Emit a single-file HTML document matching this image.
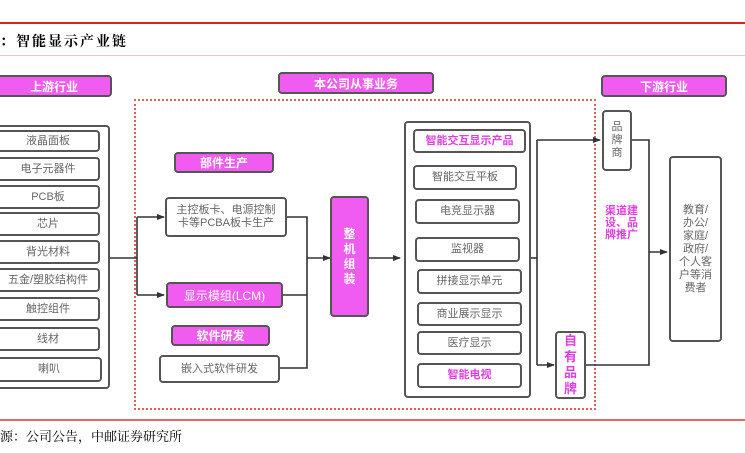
<!DOCTYPE html>
<html><head><meta charset="utf-8"><style>
body{margin:0;width:745px;height:453px;background:#fff;position:relative;overflow:hidden;font-family:"Liberation Sans","Noto Sans CJK SC",sans-serif;}
.a{position:absolute;box-sizing:border-box;}
.b{border:2px solid #555;border-radius:4px;background:#fff;color:#666;font-size:11px;display:flex;align-items:center;justify-content:center;text-align:center;line-height:13px;}
.p{border:2px solid #555;border-radius:4px;background:#f05cf0;color:#fff;font-size:12px;font-weight:bold;display:flex;align-items:center;justify-content:center;}
.m{color:#e040e0;font-weight:bold;}
</style></head><body>
<div class="a" style="left:0;top:22px;width:745px;height:2px;background:#d82020"></div>
<div class="a" style="left:0;top:31px;font-size:14px;font-family:'Noto Serif CJK SC',serif;font-weight:bold;letter-spacing:2px">：智能显示产业链</div>
<div class="a" style="left:0;top:55px;width:745px;height:1px;background:#e8c8c8"></div>
<div class="a" style="left:134px;top:99px;width:462px;height:311px;border:2px dotted #e06060"></div>
<div class="a" style="left:0;top:419px;width:745px;height:2px;background:#e86868"></div>
<div class="a" style="left:0;top:426px;font-size:13px;font-family:'Noto Serif CJK SC',serif">源：公司公告，中邮证券研究所</div>

<svg class="a" style="left:0;top:0" width="745" height="453">
<defs><marker id="ar" markerWidth="8" markerHeight="8" refX="7" refY="4" orient="auto" markerUnits="userSpaceOnUse"><path d="M0,1 L8,4 L0,7z" fill="#333"/></marker></defs>
<g stroke="#333" stroke-width="1.6" fill="none">
<path d="M110,258H137"/><path d="M137,217V295"/>
<path d="M137,217H164" marker-end="url(#ar)"/><path d="M137,295H164" marker-end="url(#ar)"/>
<path d="M287,217H307V368H280"/><path d="M283,295H307"/>
<path d="M307,258H330" marker-end="url(#ar)"/>
<path d="M369,258H400" marker-end="url(#ar)"/>
<path d="M531,258H537"/><path d="M537,140V365"/>
<path d="M537,140H600" marker-end="url(#ar)"/><path d="M537,365H554" marker-end="url(#ar)"/>
<path d="M632,140H649V365H586"/>
<path d="M649,252H667" marker-end="url(#ar)"/>
</g></svg>

<div class="a p" style="left:-4px;top:75px;width:116px;height:22px">上游行业</div>
<div class="a" style="left:-4px;top:125px;width:114px;height:264px;border:2px solid #555;border-radius:4px"></div>
<div class="a b" style="left:-4px;top:130px;width:104px;height:22px">液晶面板</div>
<div class="a b" style="left:-4px;top:157px;width:104px;height:24px">电子元器件</div>
<div class="a b" style="left:-4px;top:185px;width:104px;height:24px">PCB板</div>
<div class="a b" style="left:-4px;top:212px;width:104px;height:24px">芯片</div>
<div class="a b" style="left:-4px;top:240px;width:104px;height:24px">背光材料</div>
<div class="a b" style="left:-4px;top:268px;width:104px;height:24px">五金/塑胶结构件</div>
<div class="a b" style="left:-4px;top:297px;width:104px;height:24px">触控组件</div>
<div class="a b" style="left:-4px;top:327px;width:104px;height:24px">线材</div>
<div class="a b" style="left:-4px;top:357px;width:106px;height:25px">喇叭</div>

<div class="a p" style="left:278px;top:72px;width:156px;height:22px">本公司从事业务</div>
<div class="a p" style="left:174px;top:152px;width:100px;height:21px">部件生产</div>
<div class="a b" style="left:165px;top:197px;width:122px;height:40px">主控板卡、电源控制<br>卡等PCBA板卡生产</div>
<div class="a p" style="left:166px;top:282px;width:117px;height:26px;font-weight:normal">显示模组(LCM)</div>
<div class="a p" style="left:171px;top:325px;width:99px;height:21px">软件研发</div>
<div class="a b" style="left:159px;top:355px;width:121px;height:28px">嵌入式软件研发</div>
<div class="a p" style="left:330px;top:196px;width:39px;height:121px;line-height:15px;text-align:center">整<br>机<br>组<br>装</div>

<div class="a" style="left:404px;top:121px;width:127px;height:277px;border:2px solid #555;border-radius:4px"></div>
<div class="a b m" style="left:413px;top:129px;width:113px;height:24px;color:#e040e0">智能交互显示产品</div>
<div class="a b" style="left:413px;top:165px;width:104px;height:25px">智能交互平板</div>
<div class="a b" style="left:415px;top:199px;width:105px;height:25px">电竞显示器</div>
<div class="a b" style="left:415px;top:237px;width:105px;height:25px">监视器</div>
<div class="a b" style="left:417px;top:269px;width:105px;height:25px">拼接显示单元</div>
<div class="a b" style="left:417px;top:302px;width:105px;height:24px">商业展示显示</div>
<div class="a b" style="left:417px;top:331px;width:105px;height:24px">医疗显示</div>
<div class="a b m" style="left:417px;top:363px;width:105px;height:25px;color:#e040e0">智能电视</div>

<div class="a p" style="left:601px;top:75px;width:126px;height:22px">下游行业</div>
<div class="a b" style="left:602px;top:110px;width:30px;height:61px">品<br>牌<br>商</div>
<div class="a b m" style="left:555px;top:331px;width:31px;height:68px;color:#e040e0;font-size:13px;line-height:16px">自<br>有<br>品<br>牌</div>
<div class="a m" style="left:605px;top:205px;width:38px;font-size:11px;line-height:12px">渠道建设、品牌推广</div>
<div class="a b" style="left:669px;top:156px;width:53px;height:186px;line-height:13px">教育/<br>办公/<br>家庭/<br>政府/<br>个人客<br>户等消<br>费者</div>
</body></html>
